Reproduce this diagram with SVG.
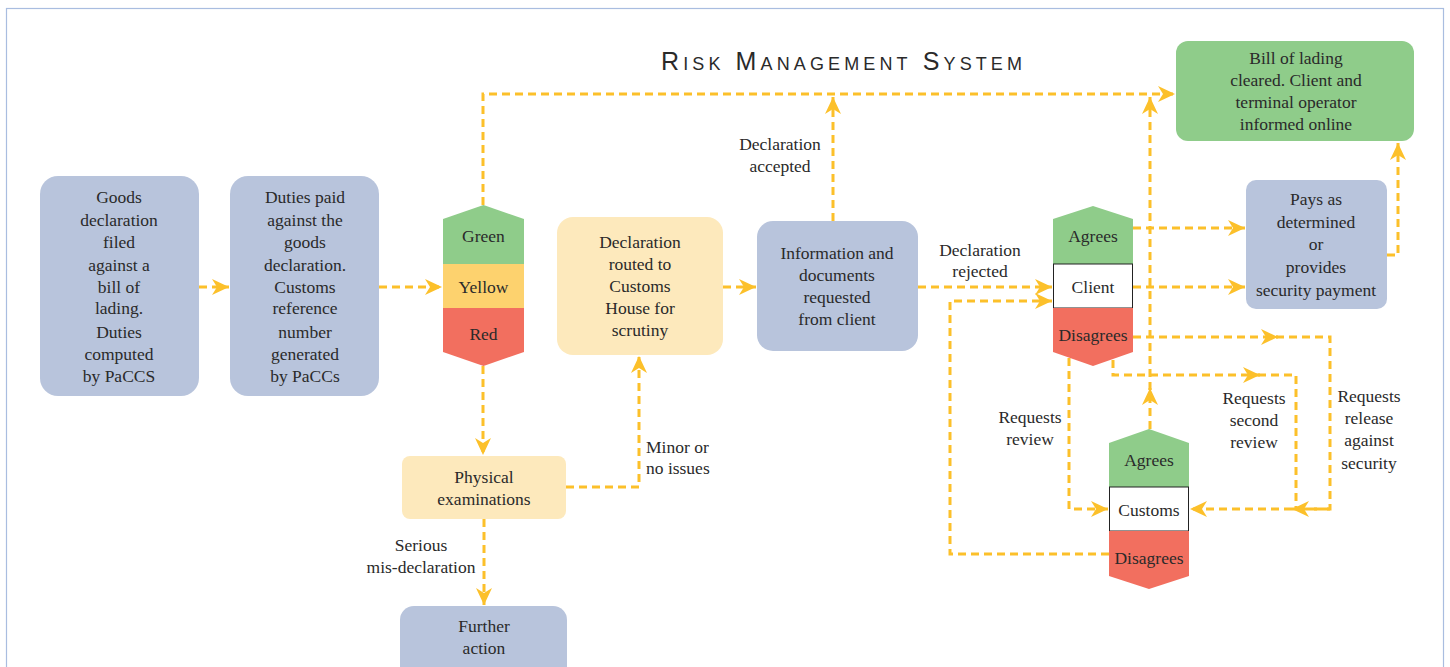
<svg xmlns="http://www.w3.org/2000/svg" width="1450" height="667" viewBox="0 0 1450 667">
<style>
.t{font-size:17.5px;fill:#2a2a2a;text-anchor:middle}
.tl{font-size:17.5px;fill:#2a2a2a;text-anchor:start}
.blue{fill:#b8c4dc}
.cream{fill:#fde9bc}
.green{fill:#8fcc8a}
.yellow{fill:#fdd26e}
.red{fill:#f26f5f}
.c{fill:none;stroke:#fcc02a;stroke-width:3;stroke-dasharray:8 5;marker-end:url(#ah)}
.cn{fill:none;stroke:#fcc02a;stroke-width:3;stroke-dasharray:8 5}
</style>
<defs>
<marker id="ah" markerUnits="userSpaceOnUse" markerWidth="20" markerHeight="20" viewBox="-18 -10 20 20" refX="0" refY="0" orient="auto">
<path d="M0,0 L-17,-8 L-12,0 L-17,8 Z" fill="#fcc02a"/>
</marker>
</defs>
<rect x="6.5" y="8.5" width="1437" height="670" fill="none" stroke="#a9bde0" stroke-width="1.2"/>
<text x="661" y="70" font-family="Liberation Sans, sans-serif" font-size="25" font-variant="small-caps" fill="#2a2a2a" textLength="361" lengthAdjust="spacing">Risk Management System</text>

<g id="connectors">
<path class="c" d="M199,287 H229"/>
<path class="c" d="M379,287 H442"/>
<path class="c" d="M483,205 V94 H1175"/>
<path class="c" d="M833,221 V97"/>
<path class="c" d="M723,287 H756"/>
<path class="c" d="M918,287 H1052"/>
<path class="c" d="M483,366 V455"/>
<path class="c" d="M566,487 H639 V356"/>
<path class="c" d="M484,519 V605"/>
<path class="c" d="M1133,228 H1245"/>
<path class="c" d="M1133,287 H1245"/>
<path class="c" d="M1387,255 H1398 V143"/>
<path class="c" d="M1133,337 H1278"/>
<path class="cn" d="M1276,337 H1330 V509 H1292"/>
<path class="c" d="M1330,509 H1292"/>
<path class="c" d="M1113,360 V375 H1260"/>
<path class="cn" d="M1258,375 H1296 V509"/>
<path class="c" d="M1292,509 H1190"/>
<path class="c" d="M1069,358 V509 H1108"/>
<path class="c" d="M1109,554 H950 V301 H1052"/>
<path class="c" d="M1150,429 V388"/>
<path class="c" d="M1150,390 V97"/>
</g>

<g font-family="Liberation Serif, Times New Roman, serif">
<g id="goods-declaration">
<rect class="blue" x="40" y="176" width="159" height="220" rx="18"/>
<text class="t" x="119" y="203">Goods</text>
<text class="t" x="119" y="226">declaration</text>
<text class="t" x="119" y="248">filed</text>
<text class="t" x="119" y="271">against a</text>
<text class="t" x="119" y="293">bill of</text>
<text class="t" x="119" y="314">lading.</text>
<text class="t" x="119" y="338">Duties</text>
<text class="t" x="119" y="360">computed</text>
<text class="t" x="119" y="382">by PaCCS</text>
</g>

<g id="duties-paid">
<rect class="blue" x="230" y="176" width="149" height="220" rx="18"/>
<text class="t" x="305" y="203">Duties paid</text>
<text class="t" x="305" y="226">against the</text>
<text class="t" x="305" y="248">goods</text>
<text class="t" x="305" y="271">declaration.</text>
<text class="t" x="305" y="293">Customs</text>
<text class="t" x="305" y="314">reference</text>
<text class="t" x="305" y="338">number</text>
<text class="t" x="305" y="360">generated</text>
<text class="t" x="305" y="382">by PaCCs</text>
</g>

<g id="risk-channel">
<path class="green" d="M443,264 V219 L483.5,205 L524,219 V264 Z"/>
<rect class="yellow" x="443" y="264" width="81" height="44"/>
<path class="red" d="M443,308 H524 V352 L483.5,366 L443,352 Z"/>
<text class="t" x="483.5" y="242">Green</text>
<text class="t" x="483.5" y="293">Yellow</text>
<text class="t" x="483.5" y="340">Red</text>
</g>

<g id="declaration-routed">
<rect class="cream" x="557" y="217" width="166" height="138" rx="16"/>
<text class="t" x="640" y="248">Declaration</text>
<text class="t" x="640" y="270">routed to</text>
<text class="t" x="640" y="292">Customs</text>
<text class="t" x="640" y="314">House for</text>
<text class="t" x="640" y="336">scrutiny</text>
</g>

<g id="information-requested">
<rect class="blue" x="757" y="221" width="161" height="130" rx="16"/>
<text class="t" x="837" y="259">Information and</text>
<text class="t" x="837" y="281">documents</text>
<text class="t" x="837" y="303">requested</text>
<text class="t" x="837" y="325">from client</text>
</g>

<g id="physical-examinations">
<rect class="cream" x="402" y="456" width="164" height="63" rx="8"/>
<text class="t" x="484" y="483">Physical</text>
<text class="t" x="484" y="505">examinations</text>
</g>

<g id="further-action">
<rect class="blue" x="400" y="606" width="167" height="80" rx="14"/>
<text class="t" x="484" y="632">Further</text>
<text class="t" x="484" y="654">action</text>
</g>

<g id="bill-cleared">
<rect class="green" x="1176" y="41" width="238" height="100" rx="12"/>
<text class="t" x="1296" y="64">Bill of lading</text>
<text class="t" x="1296" y="86">cleared. Client and</text>
<text class="t" x="1296" y="108">terminal operator</text>
<text class="t" x="1296" y="130">informed online</text>
</g>

<g id="pays">
<rect class="blue" x="1246" y="180" width="141" height="129" rx="10"/>
<text class="t" x="1316" y="205">Pays as</text>
<text class="t" x="1316" y="228">determined</text>
<text class="t" x="1316" y="250">or</text>
<text class="t" x="1316" y="273">provides</text>
<text class="t" x="1316" y="296">security payment</text>
</g>

<g id="client">
<path class="green" d="M1053,264 V219 L1093,206 L1133,219 V264 Z"/>
<rect x="1053.5" y="264" width="79" height="44" fill="#fff" stroke="#222" stroke-width="1"/>
<path class="red" d="M1053,308 H1133 V352 L1093,366 L1053,352 Z"/>
<text class="t" x="1093" y="242">Agrees</text>
<text class="t" x="1093" y="293">Client</text>
<text class="t" x="1093" y="341">Disagrees</text>
</g>

<g id="customs">
<path class="green" d="M1109,487 V443 L1149,429 L1189,443 V487 Z"/>
<rect x="1109.5" y="487" width="79" height="44" fill="#fff" stroke="#222" stroke-width="1"/>
<path class="red" d="M1109,531 H1189 V576 L1149,589 L1109,576 Z"/>
<text class="t" x="1149" y="466">Agrees</text>
<text class="t" x="1149" y="516">Customs</text>
<text class="t" x="1149" y="564">Disagrees</text>
</g>

<g id="labels">
<text class="t" x="780" y="150">Declaration</text>
<text class="t" x="780" y="172">accepted</text>
<text class="t" x="980" y="256">Declaration</text>
<text class="t" x="980" y="277">rejected</text>
<text class="tl" x="646" y="453">Minor or</text>
<text class="tl" x="646" y="474">no issues</text>
<text class="t" x="421" y="551">Serious</text>
<text class="t" x="421" y="573">mis-declaration</text>
<text class="t" x="1030" y="423">Requests</text>
<text class="t" x="1030" y="445">review</text>
<text class="t" x="1254" y="404">Requests</text>
<text class="t" x="1254" y="426">second</text>
<text class="t" x="1254" y="448">review</text>
<text class="t" x="1369" y="402">Requests</text>
<text class="t" x="1369" y="424">release</text>
<text class="t" x="1369" y="446">against</text>
<text class="t" x="1369" y="469">security</text>
</g>
</g>
</svg>
